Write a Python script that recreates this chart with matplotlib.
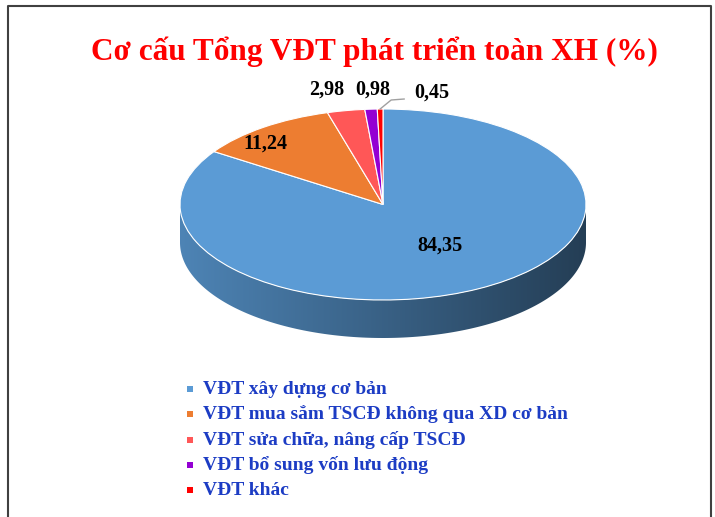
import numpy as np
import matplotlib
matplotlib.use("Agg")
import matplotlib.pyplot as plt
from matplotlib.patches import Polygon, Rectangle
from matplotlib.transforms import Affine2D
from matplotlib.lines import Line2D
import matplotlib.colors as mcolors

# ---- data ----
categories = [
    "VĐT xây dựng cơ bản",
    "VĐT mua sắm TSCĐ không qua XD cơ bản",
    "VĐT sửa chữa, nâng cấp TSCĐ",
    "VĐT bổ sung vốn lưu động",
    "VĐT khác",
]
values = [84.35, 11.24, 2.98, 0.98, 0.45]
value_labels = ["84,35", "11,24", "2,98", "0,98", "0,45"]
title = "Cơ cấu Tổng VĐT phát triển toàn XH (%)"

# ---- style ----
colors = ["#5b9bd5", "#ed7d31", "#ff5757", "#9400d3", "#ff0000"]
W, H = 715, 517
cx, cy, rx, ry, depth = 383, 204.5, 203, 95.5, 38
# label positions in ellipse units (x right, y up) relative to centre
label_pos = [(0.28, -0.43), (-0.58, 0.64), (-0.276, 1.20), (-0.05, 1.20), (0.24, 1.17)]

plt.rcParams['font.family'] = ['Liberation Serif', 'DejaVu Serif']
fig = plt.figure(figsize=(W / 100, H / 100), dpi=100)
ax = fig.add_axes([0, 0, 1, 1])

# pie top
wedges, _ = ax.pie(values, colors=colors, startangle=90, counterclock=False,
                   radius=1, center=(0, 0),
                   wedgeprops=dict(edgecolor="white", linewidth=0.8))
ax.set_aspect('auto')
ax.set_xlim(0, W)
ax.set_ylim(H, 0)
ax.axis('off')
ell = Affine2D().scale(rx, -ry).translate(cx, cy) + ax.transData
for w in wedges:
    w.set_transform(ell)
    w.set_zorder(3)

# side walls (front visible half: angles 180..360)
bounds = 90 - np.cumsum([0] + values) / sum(values) * 360  # clockwise
for i in range(len(values)):
    hi, lo = bounds[i], bounds[i + 1]
    segs = []
    for k in (-360, 0, 360):
        a0, a1 = max(lo + k, 180), min(hi + k, 360)
        if a1 > a0:
            segs.append((a0, a1))
    for a0, a1 in segs:
        t = np.radians(np.linspace(a0, a1, 200))
        xs = cx + rx * np.cos(t)
        ys = cy - ry * np.sin(t)
        pts = np.vstack([np.column_stack([xs, ys]),
                         np.column_stack([xs[::-1], ys[::-1] + depth])])
        poly = Polygon(pts, closed=True, facecolor='none', edgecolor='none',
                       transform=ax.transData)
        ax.add_patch(poly)
        base = np.array(mcolors.to_rgb(colors[i]))
        grad = np.linspace(0.85, 0.40, 256)
        img = (grad[:, None] * base[None, :])[None, :, :]
        im = ax.imshow(img, extent=(cx - rx, cx + rx, cy + ry + depth, cy),
                       aspect='auto', zorder=2, interpolation='bilinear')
        im.set_clip_path(poly)
ax.set_xlim(0, W)
ax.set_ylim(H, 0)

# labels
for (dx, dy), lab in zip(label_pos, value_labels):
    ax.text(cx + dx * rx, cy - dy * ry, lab, fontsize=14.5, fontweight='bold',
            ha='center', va='center', color='black', zorder=5)
# leader line for the smallest slice
mid = np.radians((bounds[-2] + bounds[-1]) / 2)
sx, sy = cx + rx * np.cos(mid), cy - ry * np.sin(mid)
ax.add_line(Line2D([sx, sx + 11, sx + 24], [sy, sy - 9, sy - 10],
                   color='#a0a0a0', lw=1, zorder=4))

# title
ax.text(374, 52, title, fontsize=22.5, fontweight='bold', color='#ff0000',
        ha='center', va='center')

# legend
leg_y0, leg_dy = 389, 25.3
for k, (c, name) in enumerate(zip(colors, categories)):
    y = leg_y0 + k * leg_dy
    ax.add_patch(Rectangle((187, y - 3), 6, 6, facecolor=c, edgecolor='none'))
    ax.text(203, y, name, fontsize=14, fontweight='bold', color='#1c3cc4',
            ha='left', va='center')

# frame
ax.add_line(Line2D([8, 8, 711, 711], [H + 5, 6, 6, H + 5], color='#404040', lw=1.5))

fig.savefig("out.png", dpi=100)
